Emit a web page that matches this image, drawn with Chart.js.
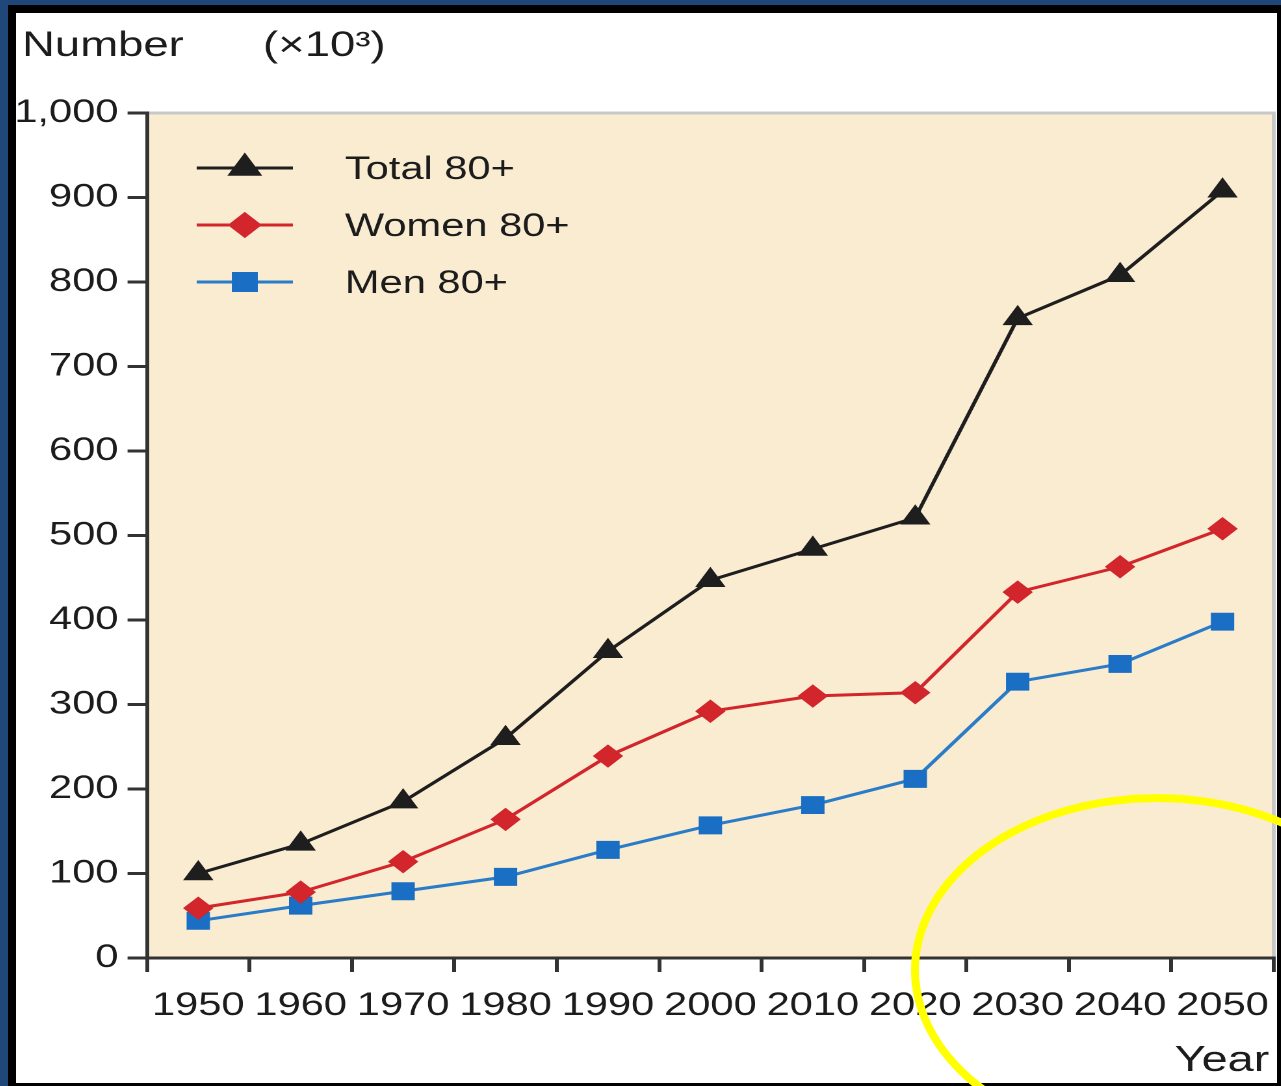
<!DOCTYPE html>
<html>
<head>
<meta charset="utf-8">
<script src="https://cdn.jsdelivr.net/npm/chart.js@4.4.1/dist/chart.umd.min.js"></script>
<style>
    html, body { margin: 0; padding: 0; width: 1281px; height: 1086px; overflow: hidden; background: #1f477a; }
    #frame { position: absolute; left: 8px; top: 5px; right: 0; bottom: 0; background: #000; }
    #panel { position: absolute; left: 16px; top: 13px; width: 1261px; height: 1070px; background: #fff; overflow: hidden; }
    /* the source figure is stretched sideways, so the chart is too */
    #stretch { position: absolute; left: 0; top: 0; width: 981px; height: 1070px; transform: scaleX(1.3); transform-origin: 0 0; }
    #ring { position: absolute; left: 911px; top: 794px; width: 492px; height: 352px; border: 8px solid #ffff00; border-radius: 50%; box-sizing: border-box; }
</style>
</head>
<body>
<div id="frame"></div>
<div id="panel"><div id="stretch"><canvas id="chart"></canvas></div></div>
<div id="ring"></div>

<script>
// DATA (thousands of people aged 80+)
const years = ['1950', '1960', '1970', '1980', '1990', '2000', '2010', '2020', '2030', '2040', '2050'];
const total80 = [100, 135, 185, 260, 363, 447, 484, 521, 757, 808, 908];
const women80 = [59, 78, 114, 164, 239, 292, 310, 314, 433, 463, 508];
const men80 = [44, 62, 79, 96, 128, 157, 181, 212, 327, 348, 398];
const yTicks = [0, 100, 200, 300, 400, 500, 600, 700, 800, 900, 1000];

const FONT = 'Liberation Sans, Arial, Helvetica, sans-serif';
const INK = '#1c1c1c';

// plot background + grey top/right frame
const plotFrame = {
    id: 'plotFrame',
    beforeDraw(chart) {
        const { ctx, chartArea: a } = chart;
        ctx.save();
        ctx.fillStyle = '#f9ecd1';
        ctx.fillRect(a.left, a.top, a.right - a.left, a.bottom - a.top);
        ctx.strokeStyle = '#c8c8c8';
        ctx.lineWidth = 3;
        ctx.beginPath();
        ctx.moveTo(a.left, a.top);
        ctx.lineTo(a.right, a.top);
        ctx.lineTo(a.right, a.bottom);
        ctx.stroke();
        ctx.restore();
    }
};

// legend inside the plot, axis titles
const labels = {
    id: 'labels',
    afterDraw(chart) {
        const ctx = chart.ctx;
        ctx.save();
        ctx.fillStyle = INK;
        ctx.textBaseline = 'alphabetic';
        ctx.font = '35px ' + FONT;
        ctx.textAlign = 'left';
        ctx.fillText('Number', 4.6, 43);
        ctx.fillText('(×10³)', 190, 43);
        ctx.font = '36px ' + FONT;
        ctx.textAlign = 'right';
        ctx.fillText('Year', 964, 1058);

        const rows = [155, 212, 269];
        chart.data.datasets.forEach((ds, i) => {
            const y = rows[i];
            ctx.strokeStyle = ds.borderColor;
            ctx.lineWidth = ds.borderWidth;
            ctx.beginPath();
            ctx.moveTo(139, y);
            ctx.lineTo(213, y);
            ctx.stroke();
            ctx.fillStyle = ds.pointBackgroundColor;
            ctx.strokeStyle = ds.pointBackgroundColor;
            Chart.helpers.drawPoint(ctx, { pointStyle: ds.pointStyle, radius: ds.pointRadius, borderWidth: 1, rotation: 0 }, 176, y);
            ctx.fillStyle = INK;
            ctx.font = '32px ' + FONT;
            ctx.textAlign = 'left';
            ctx.fillText(ds.label, 253, y + 11);
        });
        ctx.restore();
    }
};

new Chart(document.getElementById('chart'), {
    type: 'line',
    data: {
        labels: years,
        datasets: [
            { label: 'Total 80+', data: total80, borderColor: '#1e1e1e', pointBackgroundColor: '#1e1e1e', pointBorderColor: '#1e1e1e',
              borderWidth: 3, pointStyle: 'triangle', pointRadius: 12.5, pointBorderWidth: 1 },
            { label: 'Women 80+', data: women80, borderColor: '#d2262c', pointBackgroundColor: '#d2262c', pointBorderColor: '#d2262c',
              borderWidth: 3, pointStyle: 'rectRot', pointRadius: 11, pointBorderWidth: 1 },
            { label: 'Men 80+', data: men80, borderColor: '#2a7cc8', pointBackgroundColor: '#1a6fc4', pointBorderColor: '#1a6fc4',
              borderWidth: 3, pointStyle: 'rect', pointRadius: 12, pointBorderWidth: 1 }
        ]
    },
    options: {
        responsive: true,
        maintainAspectRatio: false,
        animation: false,
        devicePixelRatio: 2,
        layout: { padding: { top: 100, right: 3.8, left: 0, bottom: 0 } },
        elements: { line: { tension: 0 } },
        plugins: { legend: { display: false }, tooltip: { enabled: false } },
        scales: {
            x: {
                type: 'category',
                offset: true,
                grid: { offset: true, drawOnChartArea: false, tickLength: 14, color: '#333', lineWidth: 3 },
                border: { color: '#333', width: 3 },
                ticks: { font: { family: FONT, size: 32 }, color: INK, padding: 15, maxRotation: 0, autoSkip: false },
                afterFit: s => { s.height = 125; s.paddingLeft = 0; s.paddingRight = 0; }
            },
            y: {
                min: 0,
                max: 1000,
                afterBuildTicks: s => { s.ticks = yTicks.map(v => ({ value: v })); },
                grid: { drawOnChartArea: false, tickLength: 15, color: '#333', lineWidth: 3 },
                border: { color: '#333', width: 3 },
                ticks: { font: { family: FONT, size: 32 }, color: INK, padding: 7, callback: v => v.toLocaleString('en-US') },
                afterFit: s => { s.width = 100.8; }
            }
        }
    },
    plugins: [plotFrame, labels]
});
</script>
</body>
</html>
